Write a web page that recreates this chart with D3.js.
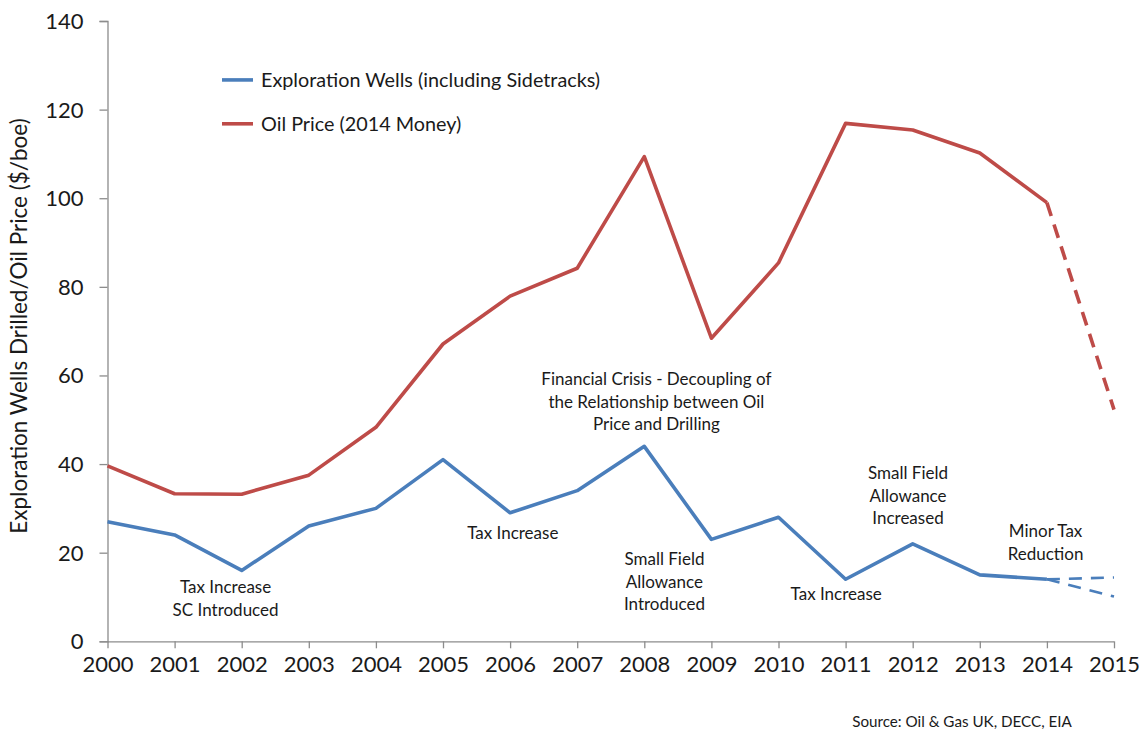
<!DOCTYPE html>
<html>
<head>
<meta charset="utf-8">
<script src="https://cdn.jsdelivr.net/npm/d3@7"></script>
<style>
  html, body { margin: 0; padding: 0; background: #fff; }
  svg text { font-family: Lato, "Open Sans", sans-serif; fill: #1a1a1a; }
</style>
</head>
<body>
<svg id="chart" width="1143" height="733"></svg>
<script>
// Years on the x axis
const years = [2000, 2001, 2002, 2003, 2004, 2005, 2006, 2007, 2008, 2009, 2010, 2011, 2012, 2013, 2014];
// Exploration wells drilled (including sidetracks)
const wells = [27, 24, 16, 26, 30, 41, 29, 34, 44, 23, 28, 14, 22, 15, 14];
// Oil price in 2014 money ($/boe)
const oilPrice = [39.6, 33.3, 33.2, 37.5, 48.3, 67.1, 77.9, 84.2, 109.4, 68.4, 85.4, 116.9, 115.4, 110.2, 99.0];
// 2015 projections
const oilPriceForecast = [[2014, 99.0], [2015, 52.3]];
const wellsForecastFlat = [[2014, 14], [2015, 14.4]];
const wellsForecastLow = [[2014, 14], [2015, 10.1]];
const xTicks = d3.range(2000, 2016);
const yTicks = [0, 20, 40, 60, 80, 100, 120, 140];

const annotations = [
  { year: 2001.76, value: 10.9, lines: ["Tax Increase", "SC Introduced"] },
  { year: 2006.04, value: 23.2, lines: ["Tax Increase"] },
  { year: 2008.18, value: 57.8, lines: ["Financial Crisis - Decoupling of", "the Relationship between Oil", "Price and Drilling"] },
  { year: 2008.3, value: 17.2, lines: ["Small Field", "Allowance", "Introduced"] },
  { year: 2010.86, value: 9.3, lines: ["Tax Increase"] },
  { year: 2011.93, value: 36.6, lines: ["Small Field", "Allowance", "Increased"] },
  { year: 2013.98, value: 23.5, lines: ["Minor Tax", "Reduction"] }
];

const BLUE = "#4a7ebb";
const RED = "#be4b48";
const AXIS = "#8c8c8c";

const svg = d3.select("#chart");
const x = d3.scaleLinear().domain([2000, 2015]).range([107.5, 1114]);
const y = d3.scaleLinear().domain([0, 140]).range([641.3, 21]);

// Axes
const yAxis = svg.append("g").attr("transform", `translate(${x(2000)},0)`)
  .call(d3.axisLeft(y).tickValues(yTicks).tickSize(8).tickPadding(16).tickFormat(d3.format("d")));
yAxis.select(".domain").attr("stroke", AXIS).attr("stroke-width", 1.3);
yAxis.selectAll(".tick line").attr("stroke", AXIS).attr("stroke-width", 1.3);
yAxis.selectAll(".tick text").attr("font-size", 22).attr("fill", "#1a1a1a").attr("dy", "0.34em");

const xAxis = svg.append("g").attr("transform", `translate(0,${y(0)})`)
  .call(d3.axisBottom(x).tickValues(xTicks).tickSize(7).tickPadding(8).tickFormat(d3.format("d")).tickSizeOuter(0));
xAxis.select(".domain").attr("stroke", AXIS).attr("stroke-width", 1.3).attr("d", `M${x(2000)},0.5H${x(2015)}`);
xAxis.selectAll(".tick line").attr("stroke", AXIS).attr("stroke-width", 1.3);
xAxis.selectAll(".tick text").attr("font-size", 22).attr("fill", "#1a1a1a");

// Y axis title
svg.append("text")
  .attr("transform", `translate(27,326) rotate(-90)`)
  .attr("text-anchor", "middle")
  .attr("font-size", 22.5)
  .text("Exploration Wells Drilled/Oil Price ($/boe)");

// Lines
const line = d3.line().x(d => x(d[0])).y(d => y(d[1]));
const wellPts = years.map((yr, i) => [yr, wells[i]]);
const oilPts = years.map((yr, i) => [yr, oilPrice[i]]);

svg.append("path").datum(oilPts).attr("d", line)
  .attr("fill", "none").attr("stroke", RED).attr("stroke-width", 3.6).attr("stroke-linejoin", "round");
svg.append("path").datum(oilPriceForecast).attr("d", line)
  .attr("fill", "none").attr("stroke", RED).attr("stroke-width", 3.6).attr("stroke-dasharray", "14,9");

svg.append("path").datum(wellPts).attr("d", line)
  .attr("fill", "none").attr("stroke", BLUE).attr("stroke-width", 3.6).attr("stroke-linejoin", "round");
[wellsForecastFlat, wellsForecastLow].forEach(pts => {
  svg.append("path").datum(pts).attr("d", line)
    .attr("fill", "none").attr("stroke", BLUE).attr("stroke-width", 2.6).attr("stroke-dasharray", "13,9");
});

// Legend
const legend = [
  { label: "Exploration Wells (including Sidetracks)", color: BLUE, value: 126.7 },
  { label: "Oil Price (2014 Money)", color: RED, value: 116.8 }
];
legend.forEach(l => {
  svg.append("line").attr("x1", 222).attr("x2", 253).attr("y1", y(l.value)).attr("y2", y(l.value))
    .attr("stroke", l.color).attr("stroke-width", 3.6);
  svg.append("text").attr("x", 261).attr("y", y(l.value)).attr("dy", "0.35em")
    .attr("font-size", 19.8).text(l.label);
});

// Annotations
annotations.forEach(a => {
  const t = svg.append("text").attr("text-anchor", "middle").attr("font-size", 17);
  a.lines.forEach((ln, i) => {
    t.append("tspan").attr("x", x(a.year)).attr("y", y(a.value) + i * 22.5).text(ln);
  });
});

// Source note
svg.append("text").attr("x", 962).attr("y", 727).attr("text-anchor", "middle")
  .attr("font-size", 15.2).text("Source: Oil & Gas UK, DECC, EIA");
</script>
</body>
</html>
